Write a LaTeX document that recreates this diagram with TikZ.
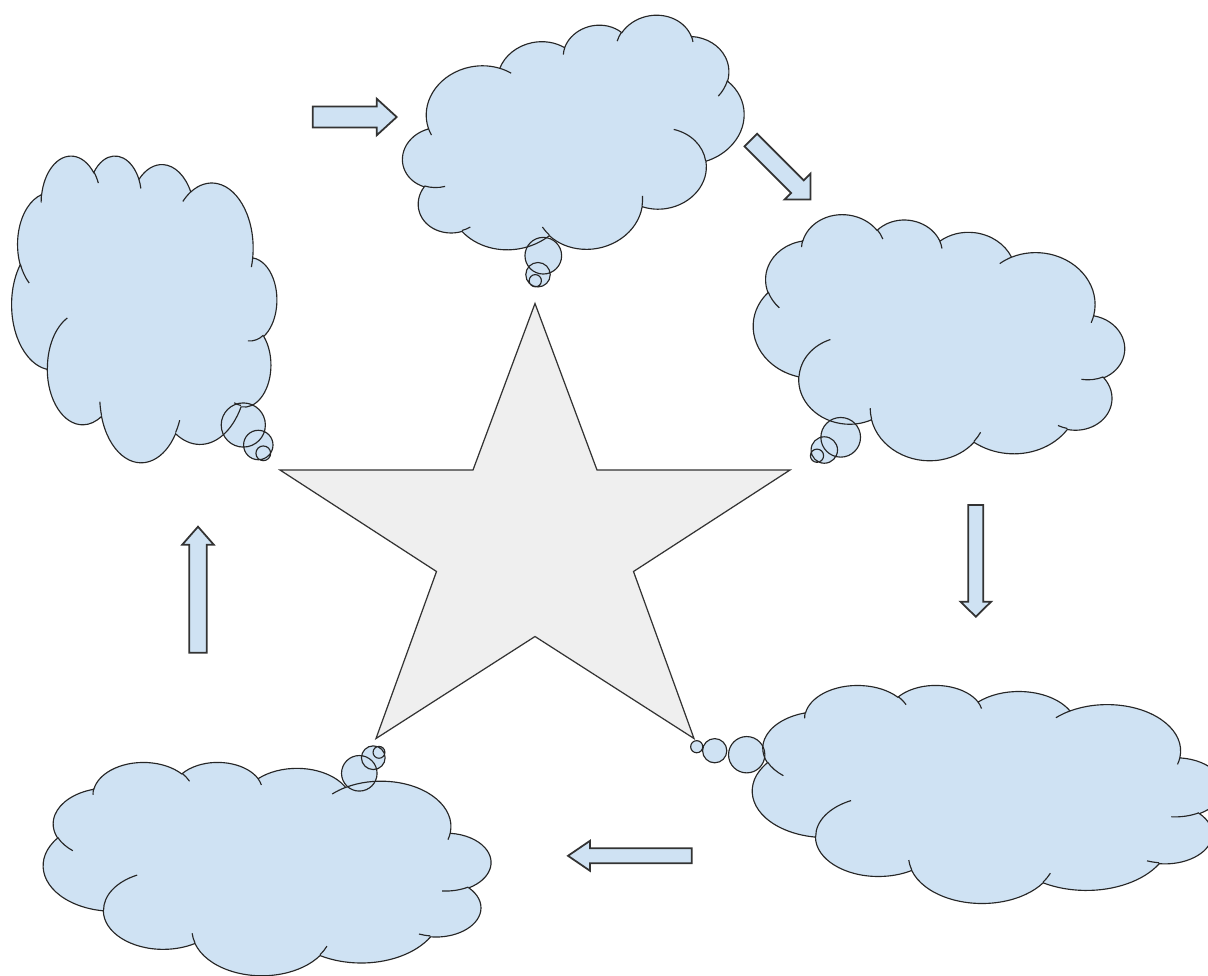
\documentclass[tikz,border=0pt]{standalone}
\usepackage{tikz}
\usetikzlibrary{positioning}
\definecolor{cloudblue}{HTML}{CFE2F3}
\definecolor{stargray}{HTML}{EFEFEF}
\definecolor{edgegray}{HTML}{333333}
\tikzset{
  cloudfill/.style = {fill=cloudblue},
  cloudline/.style = {draw=black!85, line width=0.65pt},
  arrowbox/.style  = {draw=edgegray, fill=cloudblue, line width=1pt},
  starbox/.style   = {draw=edgegray, fill=stargray, line width=0.7pt, line join=miter}
}
% one arc of the cloud: x radius, y radius, start angle, sweep (angles as seen)
\newcommand\cloudarc[4]{arc[x radius=#1, y radius=#2,
  start angle={atan2((#1)*sin(#3),(#2)*cos(#3))},
  delta angle={(#4)+(atan2((#1)*sin((#3)+(#4)),(#2)*cos((#3)+(#4)))-atan2((#1)*sin(#3),(#2)*cos(#3))-(#4))-360*round((atan2((#1)*sin((#3)+(#4)),(#2)*cos((#3)+(#4)))-atan2((#1)*sin(#3),(#2)*cos(#3))-(#4))/360)}]}
% outline of the cloud in a 432 x 432 box
\newcommand\cloudbody{(39.00,143.70)
  \cloudarc{67.53}{91.90}{-190.4875}{123.7805}
  \cloudarc{53.33}{72.67}{-144.1024}{89.9452}
  \cloudarc{43.65}{59.45}{-145.8079}{99.7230}
  \cloudarc{48.57}{65.95}{-130.9861}{117.2417}
  \cloudarc{53.33}{72.73}{-78.7089}{109.0269}
  \cloudarc{67.75}{92.20}{-46.2673}{130.2690}
  \cloudarc{57.85}{78.67}{0.6250}{114.0333}
  \cloudarc{67.52}{92.15}{22.4516}{115.1726}
  \cloudarc{77.20}{105.43}{66.2426}{75.7110}
  \cloudarc{43.60}{59.18}{-274.9421}{146.7356}
  \cloudarc{43.45}{59.45}{-246.8285}{152.5189} -- cycle}
% the short inner arcs
\newcommand\cloudhooks{
  (46.93,261.77) \cloudarc{43.45}{59.45}{86.7420}{26.4295}
  (69.28,348.99) \cloudarc{43.60}{59.18}{73.6105}{11.4475}
  (164.78,390.90) \cloudarc{67.52}{92.15}{137.6242}{14.0811}
  (288.27,347.51) \cloudarc{67.52}{92.15}{6.4533}{15.9984}
  (341.29,229.54) \cloudarc{57.85}{78.67}{-70.2924}{70.9174}
  (417.98,153.54) \cloudarc{53.33}{72.73}{30.3180}{27.7515}
  (383.24,54.26) \cloudarc{48.57}{65.95}{-13.7443}{14.8589}
  (290.78,39.52) \cloudarc{48.57}{65.95}{-149.1815}{18.1954}
  (221.41,47.20) \cloudarc{43.65}{59.45}{-163.4943}{17.6864}
  (140.00,51.92) \cloudarc{67.53}{91.90}{-66.7070}{12.3194}
  (41.27,157.89) \cloudarc{67.53}{91.90}{157.6544}{11.8582}}
% [turn/flip] centre x, centre y, w, h; then centres of the small, middle and large bubble
\newcommand\thoughtcloud[8][]{%
  \pgfmathsetmacro\cloudss{min(#4,#5)}
  \fill[cloudfill, shift={(#2,#3)}, #1, xscale=#4/432, yscale=#5/432,
    shift={(-216,-216)}] \cloudbody;
  \fill[cloudfill] #6 circle[radius=\cloudss/36] #7 circle[radius=\cloudss/18]
    #8 circle[radius=\cloudss/12];
  \draw[cloudline, shift={(#2,#3)}, #1, xscale=#4/432, yscale=#5/432,
    shift={(-216,-216)}] \cloudbody \cloudhooks;
  \draw[cloudline] #6 circle[radius=\cloudss/36] #7 circle[radius=\cloudss/18]
    #8 circle[radius=\cloudss/12];
}

\begin{document}
\begin{tikzpicture}[x=0.02cm, y=-0.02cm]

\path[fill=white, use as bounding box] (0,0) rectangle (1208,975);
\clip (0,0) rectangle (1208,975);

% the star in the middle
\draw[starbox] (535,303.5) -- (597,470) -- (790,470) -- (633.5,571.5)
  -- (694,738.5) -- (535,636.5) -- (376,738.5) -- (436.5,571.5)
  -- (280,470) -- (473,470) -- cycle;

% the five thought clouds
\thoughtcloud[xscale=-1]{144.2}{308.35}{265}{306.7}{(263.3,453.3)}{(258.3,445)}{(243.3,425)}
\thoughtcloud[rotate=10]{574}{140}{345}{220}{(535.3,280.7)}{(538,274.7)}{(543.3,255.7)}
\thoughtcloud[rotate=-5, xscale=-1]{938.5}{341.5}{372}{238}{(817,455.7)}{(824.3,450)}{(840.7,437.3)}
\thoughtcloud[xscale=-1]{987.4}{793.7}{470}{218}{(696.7,746.7)}{(714.7,750.7)}{(746.7,754.7)}
\thoughtcloud[xscale=-1]{267}{868.35}{447.4}{213.3}{(379,752.3)}{(373.3,757.7)}{(359.3,773.3)}

% block arrows: tail, angle, length, half body, half head, head length
\foreach \ax/\ay/\ang/\alen/\bw/\hw/\hl in {312.7/117/0/84/10.5/18.3/20,
    750.8/140/-45/84.3/8.9/18.3/18.3, 975.8/505/-90/111.7/7.5/15.3/15,
    691.7/855.8/180/123.7/7.5/15/22, 198/652.7/90/126/8.7/15.8/18}
  \draw[arrowbox, shift={(\ax,\ay)}, rotate=\ang] (0,-\bw) -- ({\alen-\hl},-\bw)
    -- ({\alen-\hl},-\hw) -- (\alen,0) -- ({\alen-\hl},\hw) -- ({\alen-\hl},\bw)
    -- (0,\bw) -- cycle;
\end{tikzpicture}
\end{document}
